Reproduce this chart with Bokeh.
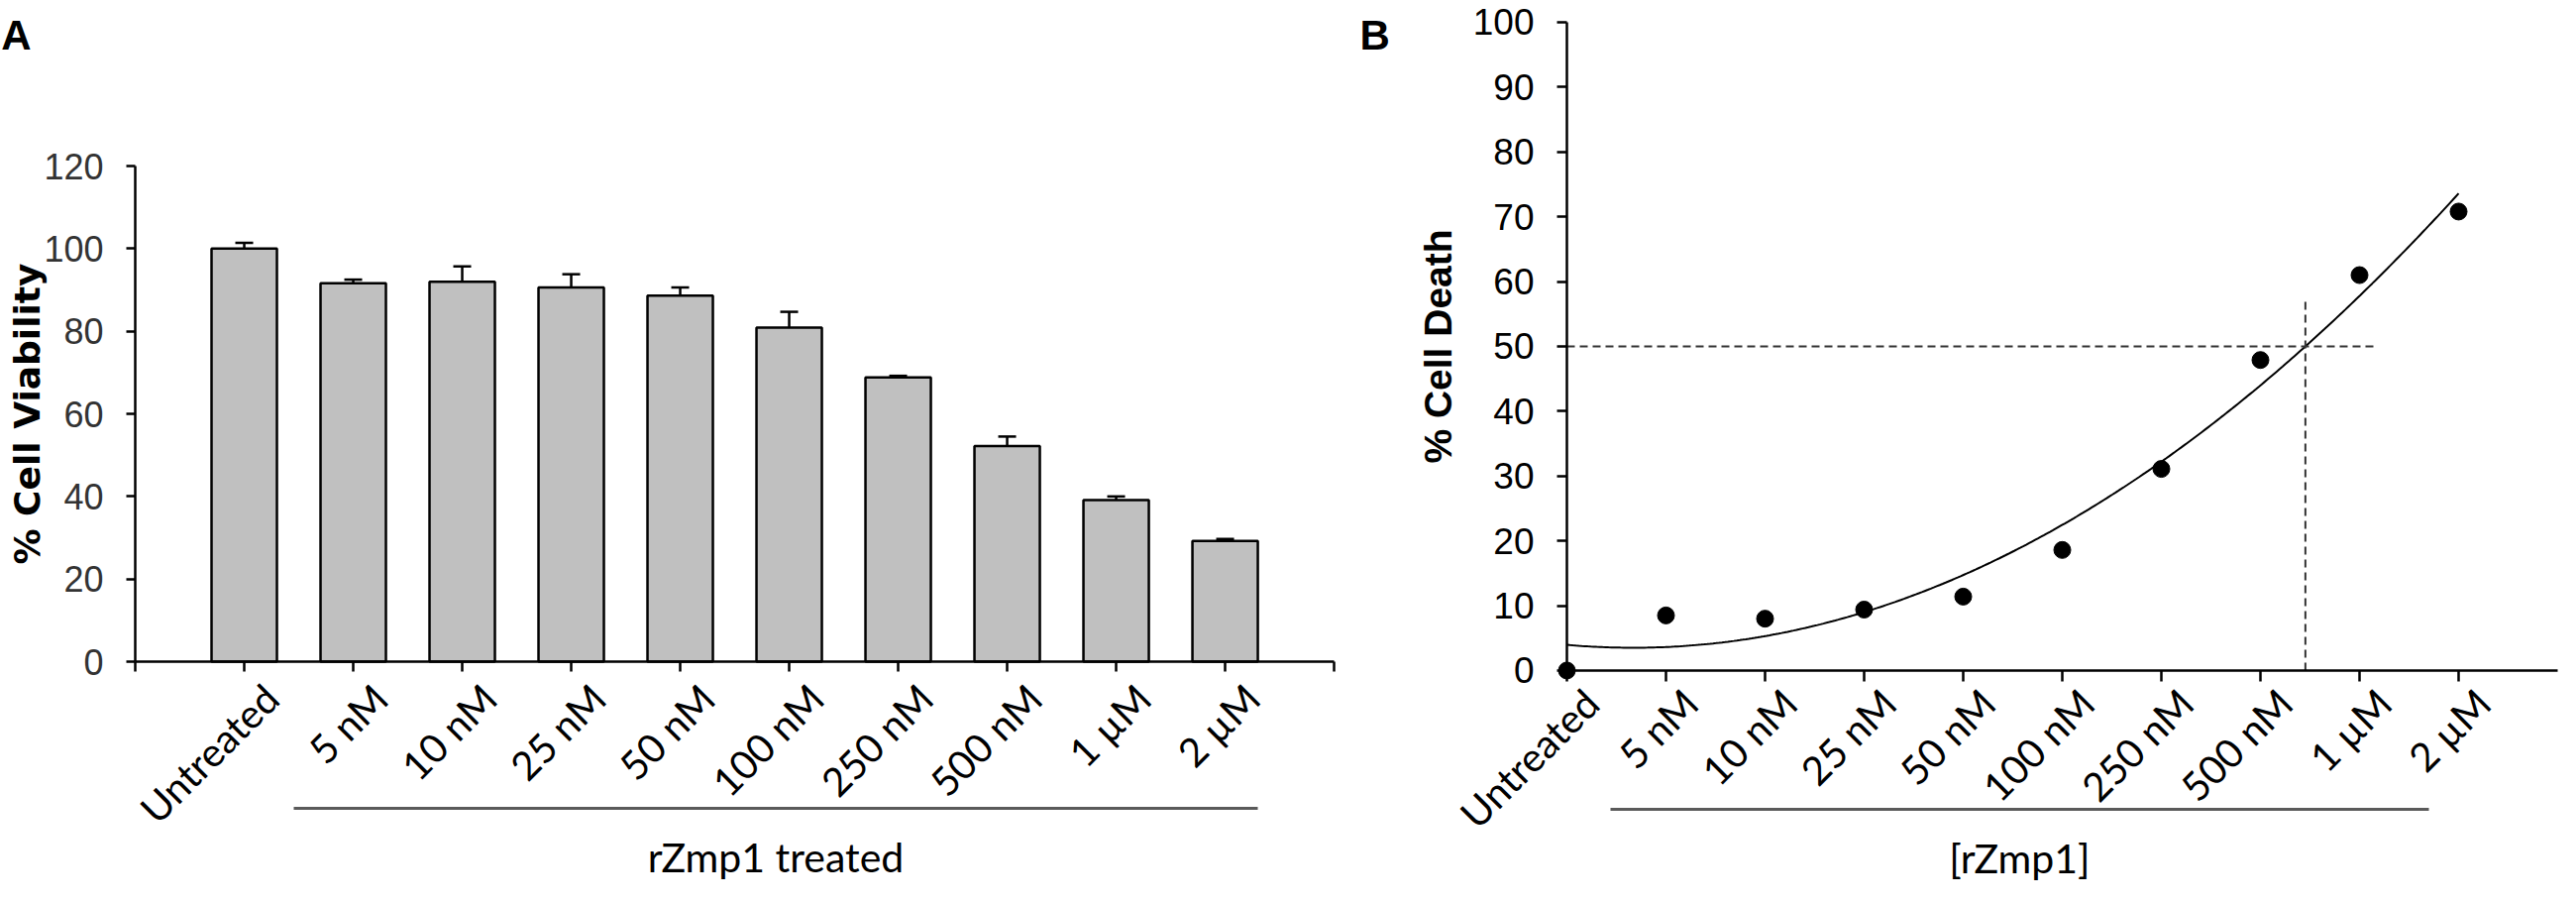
import numpy as np
from math import pi
from bokeh.plotting import figure
from bokeh.layouts import row
from bokeh.models import (ColumnDataSource, LinearAxis, FixedTicker, Whisker,
                          TeeHead, Label, Range1d)
from bokeh.embed import file_html
from bokeh.resources import INLINE

# ---------------- data ----------------
categories = ["Untreated", "5 nM", "10 nM", "25 nM", "50 nM", "100 nM",
              "250 nM", "500 nM", "1 µM", "2 µM"]
viability = [100.0, 91.6, 92.0, 90.6, 88.6, 80.9, 68.8, 52.2, 39.1, 29.2]
viability_err = [1.4, 0.9, 3.7, 3.2, 2.0, 3.8, 0.4, 2.3, 0.9, 0.5]
cell_death = [0.0, 8.5, 8.0, 9.4, 11.4, 18.6, 31.1, 47.9, 61.0, 70.8]
viability_ticks = [0, 20, 40, 60, 80, 100, 120]
death_ticks = [0, 10, 20, 30, 40, 50, 60, 70, 80, 90, 100]
group_label_a = "rZmp1 treated"
group_label_b = "[rZmp1]"
ylabel_a = "% Cell Viability"
ylabel_b = "% Cell Death"

# ---------------- styles ----------------
TICK_FONT = "Liberation Sans"
CAT_FONT = "Lato"
LW = 2.5
LABEL_SHIFT = 0.25


def base_fig(w, h, xr, yr):
    p = figure(width=w, height=h, x_range=Range1d(*xr), y_range=Range1d(*yr),
               x_axis_location=None, y_axis_location=None,
               toolbar_location=None, output_backend="svg",
               min_border=0, outline_line_color=None,
               background_fill_color="white", border_fill_color="white")
    p.grid.visible = False
    return p


def x_axes(p, n_ticks, bounds, tick_out, cat_pos, standoff, bracket_y, bracket_bounds, label):
    ax = LinearAxis(fixed_location=0, bounds=bounds,
                    ticker=FixedTicker(ticks=list(range(n_ticks))),
                    major_tick_out=tick_out, major_tick_in=0,
                    minor_tick_line_color=None, axis_line_width=LW,
                    major_tick_line_width=LW, major_label_text_color=None)
    p.add_layout(ax, "below")
    lab_ticks = [c + LABEL_SHIFT for c in cat_pos]
    axl = LinearAxis(fixed_location=0, ticker=FixedTicker(ticks=lab_ticks),
                     major_label_overrides={t: c for t, c in zip(lab_ticks, categories)},
                     axis_line_color=None, major_tick_line_color=None,
                     minor_tick_line_color=None, major_tick_out=0, major_tick_in=0,
                     major_label_orientation=pi / 4, major_label_standoff=standoff,
                     major_label_text_font=CAT_FONT, major_label_text_font_size="40px",
                     major_label_text_color="black")
    p.add_layout(axl, "below")
    axb = LinearAxis(fixed_location=bracket_y, bounds=bracket_bounds,
                     ticker=FixedTicker(ticks=[]), axis_line_color="#5a5a5a",
                     axis_line_width=3, major_tick_out=0, major_tick_in=0,
                     minor_tick_line_color=None, major_label_standoff=0,
                     axis_label=label, axis_label_standoff=24,
                     axis_label_text_font=CAT_FONT, axis_label_text_font_size="41px",
                     axis_label_text_font_style="normal", axis_label_text_color="black")
    p.add_layout(axb, "below")


def y_axes(p, ticks, bounds, label, label_standoff, color, tick_size, tick_out,
           label_font, label_size):
    ay = LinearAxis(fixed_location=0, bounds=bounds, ticker=FixedTicker(ticks=ticks),
                    major_tick_out=tick_out, major_tick_in=0, minor_tick_line_color=None,
                    axis_line_width=LW, major_tick_line_width=LW,
                    major_label_standoff=23, major_label_text_font=TICK_FONT,
                    major_label_text_font_size=tick_size, major_label_text_color=color)
    p.add_layout(ay, "left")
    ayl = LinearAxis(fixed_location=0, bounds=bounds, ticker=FixedTicker(ticks=[]),
                     axis_line_color=None, major_tick_out=0, major_tick_in=0,
                     minor_tick_line_color=None, major_label_standoff=0,
                     axis_label=label, axis_label_standoff=label_standoff,
                     axis_label_text_font=label_font, axis_label_text_font_style="bold",
                     axis_label_text_font_size=label_size, axis_label_text_color="black")
    p.add_layout(ayl, "left")


# ---------------- panel A ----------------
pos_a = list(range(1, len(categories) + 1))
pA = base_fig(1362, 895, (-1.2364, 11.145), (-54.72, 160.08))
src_a = ColumnDataSource(dict(x=pos_a, top=viability,
                              upper=[v + e for v, e in zip(viability, viability_err)]))
pA.vbar(x="x", top="top", width=0.6, bottom=0, source=src_a,
        fill_color="#C0C0C0", line_color="black", line_width=LW)
pA.add_layout(Whisker(source=src_a, base="x", lower="top", upper="upper",
                      dimension="height", line_width=LW, line_color="black",
                      upper_head=TeeHead(size=18, line_width=LW, line_color="black"),
                      lower_head=None))
x_axes(pA, 12, (0, 11), 10, pos_a, 30, -35.5, (1.45, 10.3), group_label_a)
y_axes(pA, viability_ticks, (0, 120), ylabel_a, 89, "#333333", "36px", 9,
       "DejaVu Sans", "36px")
pA.add_layout(Label(x=-1.23, y=151.7, text="A", text_font=TICK_FONT,
                    text_font_style="bold", text_font_size="42px",
                    text_align="left", text_baseline="alphabetic", text_color="black"))

# ---------------- panel B ----------------
pos_b = list(range(len(categories)))
pB = base_fig(1222, 895, (-2.19, 10.03), (-33.49, 103.36))
coef = np.polyfit(pos_b, cell_death, 2)
xs = np.linspace(pos_b[0], pos_b[-1], 300)
pB.line(xs, np.polyval(coef, xs), line_color="black", line_width=2)
roots = np.roots(coef - np.array([0, 0, 50.0]))
ic50 = float([r.real for r in roots if abs(r.imag) < 1e-9 and 0 <= r.real <= 9][0])
H_END, V_TOP = 8.14, 57.3
pB.segment(x0=[0, ic50], y0=[50, 0], x1=[H_END, ic50], y1=[50, V_TOP],
           line_color="#333333", line_width=2, line_dash="8 5")
pB.scatter(x=pos_b, y=cell_death, size=17, color="black")
x_axes(pB, 10, (0, 10), 11, pos_b, 26, -21.4, (0.44, 8.70), group_label_b)
y_axes(pB, death_ticks, (0, 100), ylabel_b, 109, "black", "37px", 10,
       "Liberation Sans", "39px")
pB.add_layout(Label(x=-2.09, y=98.0, text="B", text_font=TICK_FONT,
                    text_font_style="bold", text_font_size="42px",
                    text_align="left", text_baseline="alphabetic", text_color="black"))

layout = row(pA, pB)
open("out.html", "w").write(file_html(layout, INLINE, "chart"))
